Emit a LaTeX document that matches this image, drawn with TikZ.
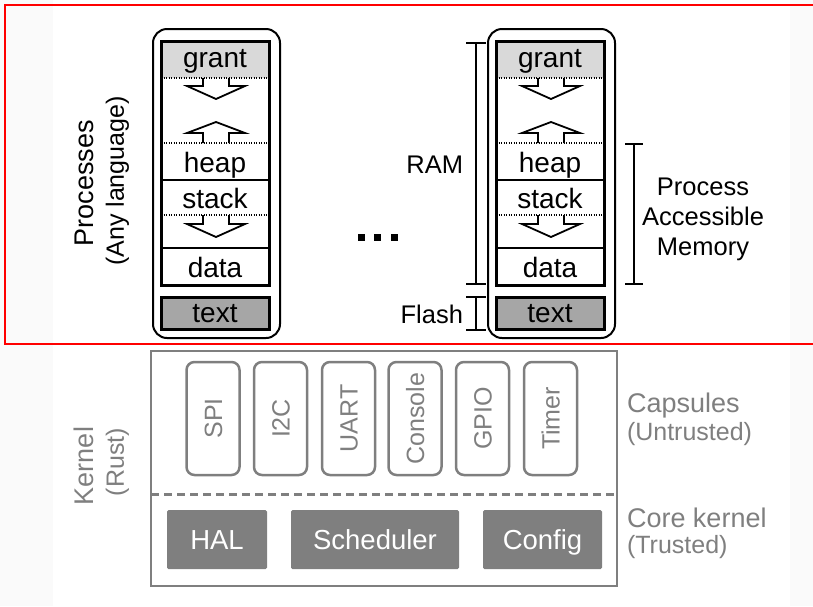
\documentclass[tikz,border=0pt]{standalone}
\usepackage{fontspec}
\setmainfont{Liberation Sans}
\definecolor{kgray}{RGB}{127,127,127}
\definecolor{grantfill}{RGB}{217,217,217}
\definecolor{textfill}{RGB}{166,166,166}
\definecolor{stripgray}{RGB}{250,250,250}
\definecolor{framered}{RGB}{255,0,0}
\begin{document}
\begin{tikzpicture}[x=1pt,y=-1pt,
  every node/.style={inner sep=0pt, outer sep=0pt},
  outerbox/.style={draw=black, line width=2pt, rounded corners=14pt},
  memframe/.style={draw=black, line width=3pt},
  divider/.style={draw=black, line width=1.5pt},
  dotline/.style={draw=black, line width=1.2pt, dash pattern=on 1.2pt off 1.3pt},
  blockarrow/.style={draw=black, fill=white, line width=1.8pt, line join=miter},
  memlabel/.style={font=\fontsize{28}{32}\selectfont, anchor=base},
  textseg/.style={draw=black, fill=textfill, line width=3pt, minimum width=108pt, minimum height=32pt, text height=19pt, text depth=0pt, font=\fontsize{28}{32}\selectfont},
  sidelabel/.style={font=\fontsize{25.5}{30}\selectfont},
  bracket/.style={draw=black, line width=1.3pt},
  dotsq/.style={fill=black, minimum size=7pt},
  kframe/.style={draw=kgray, line width=2.5pt},
  kdash/.style={draw=kgray, line width=3pt, dash pattern=on 8pt off 5pt},
  capsule/.style={draw=kgray, line width=2.5pt, rounded corners=8pt, rotate=90, minimum width=113pt, minimum height=53pt, text height=18pt, text depth=0pt, text=kgray, font=\fontsize{25}{28}\selectfont},
  corebox/.style={fill=kgray, rounded corners=1.5pt, minimum height=59pt, text height=19.5pt, text depth=0pt, text=white, font=\fontsize{27.5}{30}\selectfont},
  klabel/.style={text=kgray},
  bigfont/.style={font=\fontsize{27}{30}\selectfont},
  smallfont/.style={font=\fontsize{25}{28}\selectfont},
  memstack/.pic={
    \draw[outerbox] (-8,29) rectangle (119,338);
    \fill[grantfill] (0,41) rectangle (108,78);
    \filldraw[blockarrow] (42,78) -- (42,86) -- (26,86) -- (55,99) -- (84,86) -- (68,86) -- (68,78);
    \filldraw[blockarrow] (42,143) -- (42,133) -- (26,133) -- (55,122) -- (84,133) -- (68,133) -- (68,143);
    \filldraw[blockarrow] (42,215) -- (42,224) -- (26,224) -- (55,237) -- (84,224) -- (68,224) -- (68,215);
    \draw[dotline] (0,78) -- (108,78);
    \draw[dotline] (0,143) -- (108,143);
    \draw[dotline] (0,215) -- (108,215);
    \draw[divider] (0,180) -- (108,180);
    \draw[divider] (0,248) -- (108,248);
    \draw[memframe] (0,41) rectangle (108,285);
    \node[memlabel] (-grant) at (54,67) {grant};
    \node[memlabel] (-heap) at (54,172) {heap};
    \node[memlabel] (-stack) at (54,208) {stack};
    \node[memlabel] (-data) at (54,277) {data};
    \node[textseg] (-text) at (54,313) {text};
  }
]
\useasboundingbox (0,0) rectangle (813,606);
\fill[stripgray] (0,0) rectangle (53,606);
\fill[stripgray] (790,0) rectangle (813,606);
\draw[framered, line width=2pt] (813,5) -- (5,5) -- (5,344) -- (813,344);

% processes
\node[rotate=90, bigfont] (proc) at (84,183) {Processes};
\node[rotate=90, smallfont] (anylang) at (117.5,181) {(Any language)};
\pic (pA) at (161,0) {memstack};
\pic (pB) at (496,0) {memstack};

% dots
\node[dotsq] (d1) at (361,237) {};
\node[dotsq] (d2) at (377.5,237) {};
\node[dotsq] (d3) at (394,237) {};

% brackets
\draw[bracket] (466,43) -- (486,43) (476,43) -- (476,284) (466,284) -- (486,284);
\draw[bracket] (466,297) -- (486,297) (476,297) -- (476,330) (466,330) -- (486,330);
\draw[bracket] (625,144) -- (643,144) (634,144) -- (634,284) (625,284) -- (643,284);
\node[sidelabel, anchor=base east] (ram) at (463,173) {RAM};
\node[sidelabel, anchor=base east] (flash) at (463,323) {Flash};
\node[sidelabel, align=center] (pam) at (703,219) {Process\\Accessible\\Memory};

% kernel
\node[klabel, rotate=90, bigfont] (kern) at (84,466) {Kernel};
\node[klabel, rotate=90, smallfont] (rust) at (117.5,462) {(Rust)};
\draw[kframe] (151,351) rectangle (617,586);
\draw[kdash] (151,494) -- (617,494);
\node[capsule] (spi) at (213,418.5) {SPI};
\node[capsule] (i2c) at (280.5,418.5) {I2C};
\node[capsule] (uart) at (348.5,418.5) {UART};
\node[capsule] (console) at (415,418.5) {Console};
\node[capsule] (gpio) at (482.5,418.5) {GPIO};
\node[capsule] (timer) at (550.5,418.5) {Timer};
\node[corebox, minimum width=100pt] (hal) at (217,539.5) {HAL};
\node[corebox, minimum width=168pt] (sched) at (375,539.5) {Scheduler};
\node[corebox, minimum width=119pt] (config) at (542.5,539.5) {Config};

\node[klabel, anchor=base west, bigfont] (caps) at (627,412) {Capsules};
\node[klabel, anchor=base west, smallfont] (untr) at (627,440) {(Untrusted)};
\node[klabel, anchor=base west, bigfont] (corek) at (627,527) {Core kernel};
\node[klabel, anchor=base west, smallfont] (tr) at (627,553) {(Trusted)};
\end{tikzpicture}
\end{document}
